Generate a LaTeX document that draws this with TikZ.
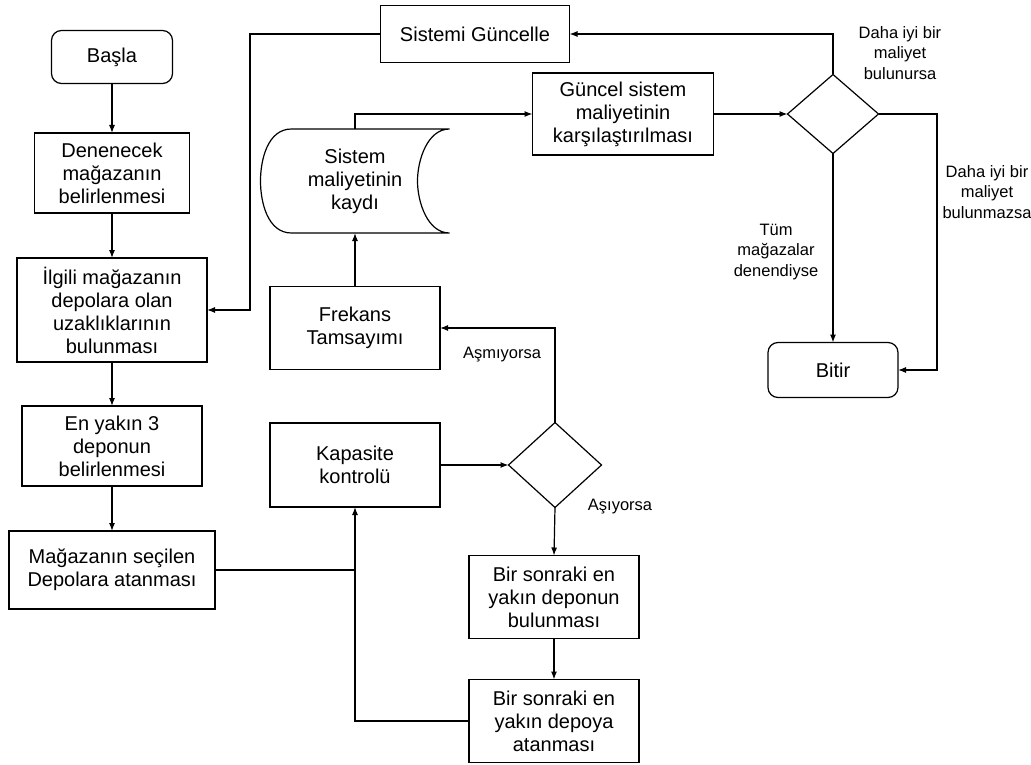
\documentclass[tikz,border=0pt]{standalone}
\usepackage{fontspec}
\setmainfont{Liberation Sans}
\usetikzlibrary{arrows.meta,shapes.geometric,calc}
\begin{document}
\begin{tikzpicture}[x=1pt,y=-1pt,
  box/.style={draw, line width=1.2pt, align=center, inner sep=0pt, outer sep=0pt, font=\fontsize{20}{23}\selectfont},
  term/.style={box, rounded corners=10pt},
  dec/.style={draw, diamond, line width=1.2pt, inner sep=0pt, outer sep=0pt},
  lbl/.style={align=center, inner sep=0pt, font=\fontsize{16.5}{20.5}\selectfont},
  arr/.style={line width=1.2pt, -{Latex[length=8pt,width=6pt]}},
  ln/.style={line width=1.2pt}]
\useasboundingbox (0,0) rectangle (1031,765);

% left column
\node[term, minimum width=121pt, minimum height=53pt] (basla) at (112,57) {Başla};
\node[box, minimum width=155pt, minimum height=80pt] (denenecek) at (112,173) {Denenecek\\mağazanın\\belirlenmesi};
\node[box, minimum width=190pt, minimum height=104pt] (ilgili) at (112,310) {İlgili mağazanın\\depolara olan\\uzaklıklarının\\bulunması};
\node[box, minimum width=180pt, minimum height=80pt] (enyakin) at (112,446) {En yakın 3\\deponun\\belirlenmesi};
\node[box, minimum width=206pt, minimum height=78pt] (magazanin) at (112,570) {Mağazanın seçilen\\Depolara atanması};

% middle column
\node[box, minimum width=170pt, minimum height=83pt] (frekans) at (355,328) {Frekans\\Tamsayımı};
\node[box, minimum width=170pt, minimum height=84pt] (kapasite) at (355,465) {Kapasite\\kontrolü};
\node[dec, minimum width=93pt, minimum height=85pt] (d2) at (555,465) {};
\node[box, minimum width=170pt, minimum height=83pt] (bir1) at (554,597) {Bir sonraki en\\yakın deponun\\bulunması};
\node[box, minimum width=170pt, minimum height=83pt] (bir2) at (554,721) {Bir sonraki en\\yakın depoya\\atanması};

% stored data
\node[align=center, inner sep=0pt, outer sep=0pt, minimum width=189pt, minimum height=104pt, font=\fontsize{20}{23}\selectfont] (kayit) at (355,181) {Sistem\\maliyetinin\\kaydı};
\draw[ln] (kayit.north east) -- ($(kayit.north west)+(31,0)$)
  .. controls ($(kayit.north west)+(7,0)$) and ($(kayit.west)+(0,-21)$) .. (kayit.west)
  .. controls ($(kayit.west)+(0,21)$) and ($(kayit.south west)+(7,0)$) .. ($(kayit.south west)+(31,0)$)
  -- (kayit.south east)
  .. controls ($(kayit.south east)+(-22,0)$) and ($(kayit.east)+(-32,21)$) .. ($(kayit.east)+(-32,0)$)
  .. controls ($(kayit.east)+(-32,-21)$) and ($(kayit.north east)+(-22,0)$) .. (kayit.north east);

% top / right
\node[box, minimum width=189pt, minimum height=57pt] (sistemi) at (475,34) {Sistemi Güncelle};
\node[box, minimum width=181pt, minimum height=82pt] (guncel) at (623,114) {Güncel sistem\\maliyetinin\\karşılaştırılması};
\node[dec, minimum width=91pt, minimum height=79pt] (d1) at (833,114) {};
\node[term, minimum width=130pt, minimum height=55pt] (bitir) at (833,370) {Bitir};

\coordinate (j1) at (250,310);
\coordinate (j2) at (937,114);

% connectors
\draw[arr] (basla) -- (denenecek);
\draw[arr] (denenecek) -- (ilgili);
\draw[arr] (ilgili) -- (enyakin);
\draw[arr] (enyakin) -- (magazanin);
\draw[ln] (magazanin.east) -- (magazanin.east -| kapasite.south);
\draw[arr] (bir2.west) -| (kapasite.south);
\draw[arr] (kapasite.east) -- (d2.west);
\draw[arr] (d2.north) |- (frekans.east);
\draw[arr] (d2.south) -- (bir1.north);
\draw[arr] (bir1.south) -- (bir2.north);
\draw[arr] (frekans.north) -- (kayit.south);
\draw[arr] (kayit.north) |- (guncel.west);
\draw[arr] (guncel.east) -- (d1.west);
\draw[arr] (d1.north) |- (sistemi.east);
\draw[arr] (sistemi.west) -| (j1) -- (ilgili.east);
\draw[arr] (d1.south) -- (bitir.north);
\draw[arr] (d1.east) -- (j2) |- (bitir.east);

% labels
\node[lbl] (l1) at (900,53) {Daha iyi bir\\maliyet\\bulunursa};
\node[lbl] (l2) at (987,192) {Daha iyi bir\\maliyet\\bulunmazsa};
\node[lbl] (l3) at (776,252) {Tüm\\mağazalar\\denendiyse};
\node[lbl] (l4) at (502,355) {Aşmıyorsa};
\node[lbl] (l5) at (620,507) {Aşıyorsa};
\end{tikzpicture}
\end{document}
